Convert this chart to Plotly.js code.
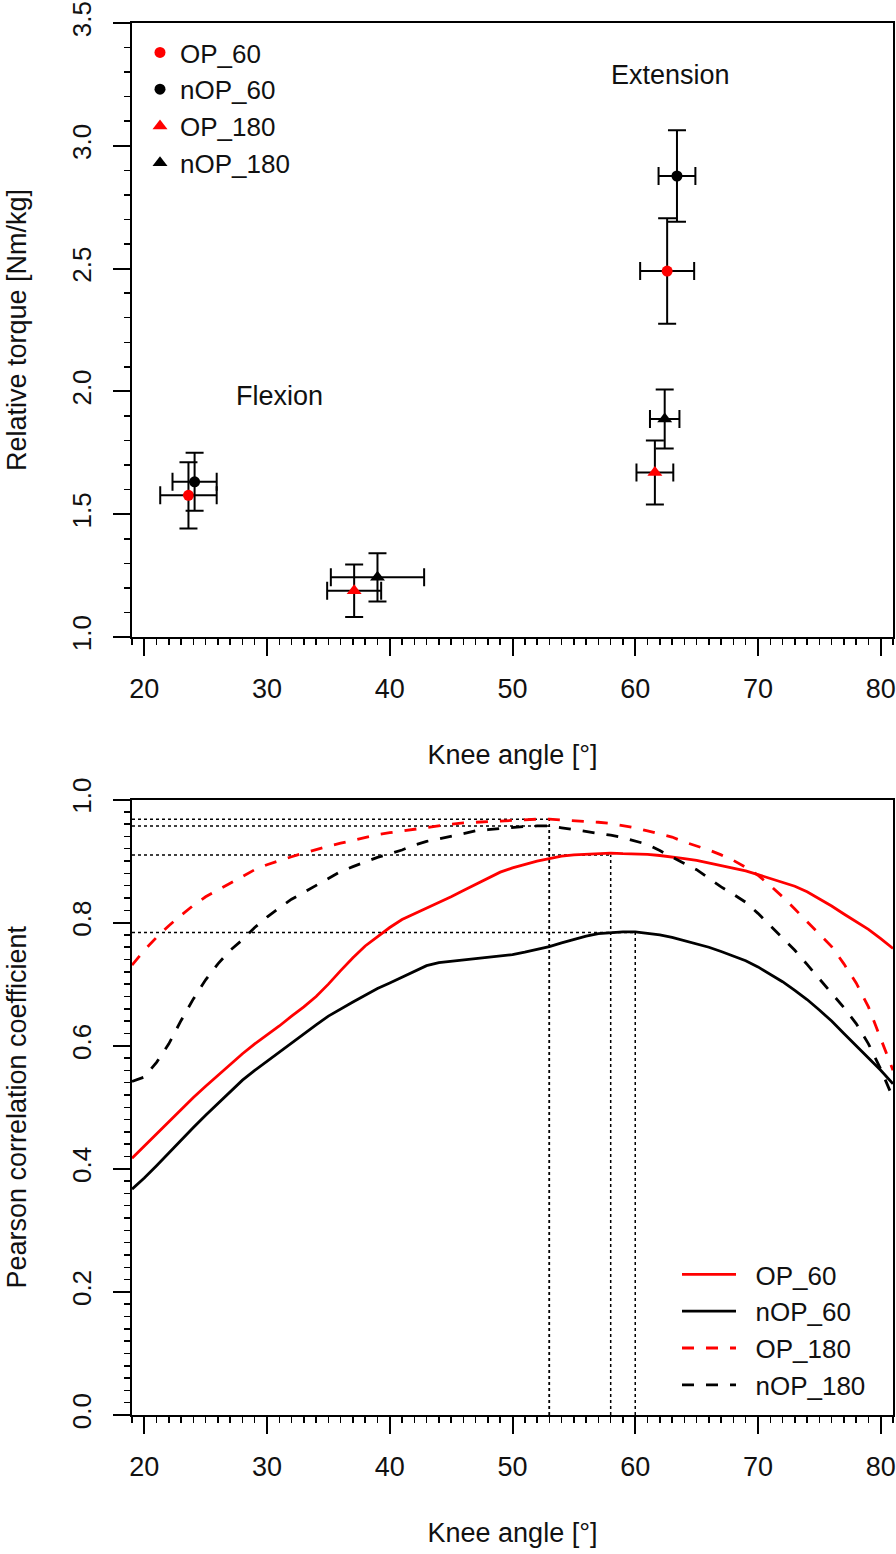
<!DOCTYPE html>
<html>
<head>
<meta charset="utf-8">
<script src="https://cdn.plot.ly/plotly-3.0.1.min.js"></script>
<style>html,body{margin:0;padding:0;background:#fff;} #chart{width:896px;height:1554px;}</style>
</head>
<body>
<div id="chart"></div>
<script>
// ---------- Top panel: torque vs knee angle (flexion, extension) ----------
var groups = ['OP_60', 'nOP_60', 'OP_180', 'nOP_180'];
var groupColors = ['#ff0000', '#000000', '#ff0000', '#000000'];
var groupSymbols = ['circle', 'circle', 'triangle-up', 'triangle-up'];
// each group: [flexion, extension]
var angleMean = {OP_60: [23.6, 62.6], nOP_60: [24.1, 63.4], OP_180: [37.1, 61.6], nOP_180: [39.0, 62.4]};
var angleSD   = {OP_60: [2.3, 2.2],   nOP_60: [1.8, 1.5],   OP_180: [2.2, 1.5],   nOP_180: [3.8, 1.2]};
var torqueMean = {OP_60: [1.577, 2.490], nOP_60: [1.632, 2.877], OP_180: [1.188, 1.670], nOP_180: [1.243, 1.888]};
var torqueSD   = {OP_60: [0.135, 0.215], nOP_60: [0.118, 0.186], OP_180: [0.107, 0.130], nOP_180: [0.098, 0.120]};
var topLabels = ['Flexion', 'Extension'];
var topLabelX = [31.0, 62.85];
var topLabelY = [1.98, 3.29];

// ---------- Bottom panel: Pearson correlation vs knee angle ----------
var kneeAngle = [19,20,21,22,23,24,25,26,27,28,29,30,31,32,33,34,35,36,37,38,39,40,41,42,43,44,45,46,47,48,49,50,
                 51,52,53,54,55,56,57,58,59,60,61,62,63,64,65,66,67,68,69,70,71,72,73,74,75,76,77,78,79,80,81];
var rOP_60 = [0.417,0.437,0.457,0.477,0.497,0.516,0.534,0.552,0.570,0.587,0.603,0.617,0.632,0.648,0.663,0.680,
              0.700,0.722,0.743,0.762,0.777,0.792,0.805,0.814,0.823,0.833,0.842,0.852,0.862,0.871,0.882,0.889,
              0.895,0.900,0.904,0.908,0.910,0.911,0.912,0.913,0.912,0.912,0.911,0.909,0.907,0.904,0.901,0.897,
              0.893,0.889,0.884,0.878,0.872,0.866,0.859,0.850,0.839,0.827,0.814,0.802,0.789,0.774,0.758];
var rnOP_60 = [0.367,0.385,0.405,0.426,0.446,0.467,0.487,0.506,0.525,0.544,0.560,0.575,0.590,0.604,0.619,0.634,
               0.648,0.660,0.671,0.682,0.693,0.702,0.711,0.720,0.730,0.735,0.737,0.739,0.741,0.743,0.745,0.748,
               0.752,0.756,0.761,0.767,0.773,0.778,0.782,0.784,0.785,0.785,0.783,0.780,0.776,0.771,0.766,0.760,
               0.753,0.746,0.738,0.728,0.716,0.704,0.690,0.675,0.658,0.640,0.620,0.600,0.580,0.560,0.538];
var rOP_180 = [0.731,0.755,0.776,0.795,0.812,0.828,0.842,0.853,0.864,0.875,0.886,0.894,0.901,0.907,0.913,0.919,
               0.924,0.929,0.934,0.939,0.943,0.946,0.949,0.952,0.955,0.958,0.960,0.962,0.963,0.964,0.966,0.967,
               0.968,0.968,0.968,0.967,0.966,0.965,0.963,0.961,0.958,0.954,0.949,0.944,0.939,0.931,0.925,0.918,
               0.910,0.901,0.890,0.877,0.860,0.842,0.822,0.802,0.782,0.761,0.733,0.702,0.663,0.612,0.560];
var rnOP_180 = [0.542,0.549,0.573,0.603,0.641,0.676,0.707,0.733,0.755,0.772,0.792,0.809,0.824,0.838,0.849,0.860,
                0.872,0.883,0.891,0.899,0.906,0.912,0.918,0.926,0.932,0.936,0.940,0.945,0.949,0.951,0.953,0.955,
                0.956,0.957,0.957,0.954,0.951,0.949,0.946,0.942,0.938,0.933,0.927,0.917,0.906,0.896,0.886,0.872,
                0.858,0.846,0.833,0.815,0.795,0.775,0.755,0.732,0.709,0.685,0.662,0.636,0.603,0.562,0.515];
var curveNames = ['OP_60', 'nOP_60', 'OP_180', 'nOP_180'];
var curveValues = [rOP_60, rnOP_60, rOP_180, rnOP_180];
var curveColors = ['#ff0000', '#000000', '#ff0000', '#000000'];
var curveDashes = ['solid', 'solid', '12px,12px', '12px,12px'];
// peak markers (dotted guide lines): angle of maximum, maximal r
var peakAngle = [53, 53, 58, 60];
var peakR = [0.968, 0.957, 0.910, 0.784];

var FONT = 'Liberation Sans, Arial, sans-serif';
var TXT = '#111111';
var NBSP = '\u00a0\u00a0';
var traces = [];

// top panel traces
groups.forEach(function (g, i) {
  traces.push({
    type: 'scatter', mode: 'markers', name: g,
    x: angleMean[g], y: torqueMean[g], xaxis: 'x', yaxis: 'y', legend: 'legend',
    marker: {color: groupColors[i], symbol: groupSymbols[i], size: groupSymbols[i] === 'circle' ? 11 : 13, line: {width: 0}},
    error_x: {type: 'data', array: angleSD[g], visible: true, color: '#000', thickness: 2, width: 9},
    error_y: {type: 'data', array: torqueSD[g], visible: true, color: '#000', thickness: 2, width: 9}
  });
});

// bottom panel dotted guide lines
peakAngle.forEach(function (a, i) {
  traces.push({type: 'scatter', mode: 'lines', x: [19, a], y: [peakR[i], peakR[i]], xaxis: 'x2', yaxis: 'y2',
    showlegend: false, hoverinfo: 'skip', line: {color: '#000', width: 1.5, dash: '3px,3px'}});
  traces.push({type: 'scatter', mode: 'lines', x: [a, a], y: [0, peakR[i]], xaxis: 'x2', yaxis: 'y2',
    showlegend: false, hoverinfo: 'skip', line: {color: '#000', width: 1.5, dash: '3px,3px'}});
});

// bottom panel curves
curveNames.forEach(function (n, i) {
  traces.push({type: 'scatter', mode: 'lines', name: NBSP + n, x: kneeAngle, y: curveValues[i],
    xaxis: 'x2', yaxis: 'y2', legend: 'legend2',
    line: {color: curveColors[i], width: 2.8, dash: curveDashes[i]}});
});

function xAxis(anchor) {
  return {
    domain: [132 / 896, 893 / 896], anchor: anchor, range: [19, 81],
    showline: true, mirror: true, linecolor: '#000', linewidth: 2,
    ticks: 'outside', ticklen: 17, tickwidth: 2, tickcolor: '#000',
    tickvals: [20, 30, 40, 50, 60, 70, 80], ticklabelstandoff: 10, ticklabeloverflow: 'allow',
    minor: {dtick: 1, tick0: 0, ticks: 'outside', ticklen: 6, tickwidth: 1.5, tickcolor: '#000', showgrid: false},
    showgrid: false, zeroline: false,
    tickfont: {family: FONT, size: 27, color: TXT},
    title: {text: 'Knee angle [°]', font: {family: FONT, size: 27, color: TXT}, standoff: 42}
  };
}

function yAxis(domain, anchor, range, tickvals, minorStep, title) {
  return {
    domain: domain, anchor: anchor, range: range,
    showline: true, mirror: true, linecolor: '#000', linewidth: 2,
    ticks: 'outside', ticklen: 17, tickwidth: 2, tickcolor: '#000',
    tickvals: tickvals, tickformat: '.1f', tickangle: -90, ticklabelstandoff: 12, ticklabeloverflow: 'allow',
    minor: {dtick: minorStep, tick0: 0, ticks: 'outside', ticklen: 6, tickwidth: 1.5, tickcolor: '#000', showgrid: false},
    showgrid: false, zeroline: false,
    tickfont: {family: FONT, size: 26, color: TXT},
    title: {text: title, font: {family: FONT, size: 27, color: TXT}, standoff: 32}
  };
}

var layout = {
  width: 896, height: 1554,
  margin: {l: 0, r: 0, t: 0, b: 0},
  paper_bgcolor: '#fff', plot_bgcolor: '#fff',
  font: {family: FONT, color: TXT},
  xaxis: xAxis('y'),
  yaxis: yAxis([1 - 637 / 1554, 1 - 23 / 1554], 'x', [1.0, 3.5], [1.0, 1.5, 2.0, 2.5, 3.0, 3.5], 0.1,
               'Relative torque [Nm/kg]'),
  xaxis2: xAxis('y2'),
  yaxis2: yAxis([1 - 1415 / 1554, 1 - 799.5 / 1554], 'x2', [0, 1], [0, 0.2, 0.4, 0.6, 0.8, 1.0], 0.02,
                'Pearson correlation coefficient'),
  legend: {
    x: 140 / 896, xanchor: 'left', y: 1 - 29 / 1554, yanchor: 'top',
    bgcolor: 'rgba(0,0,0,0)', borderwidth: 0,
    font: {family: FONT, size: 26, color: TXT}, tracegroupgap: 0
  },
  legend2: {
    x: 677 / 896, xanchor: 'left', y: 1 - 1251 / 1554, yanchor: 'top',
    bgcolor: 'rgba(0,0,0,0)', borderwidth: 0, itemwidth: 54,
    font: {family: FONT, size: 26, color: TXT}, tracegroupgap: 0
  },
  annotations: topLabels.map(function (t, i) {
    return {text: t, x: topLabelX[i], y: topLabelY[i], xref: 'x', yref: 'y', showarrow: false,
      font: {family: FONT, size: 27, color: TXT}};
  }),
  showlegend: true
};

Plotly.newPlot('chart', traces, layout, {displayModeBar: false, staticPlot: true});
</script>
</body>
</html>
